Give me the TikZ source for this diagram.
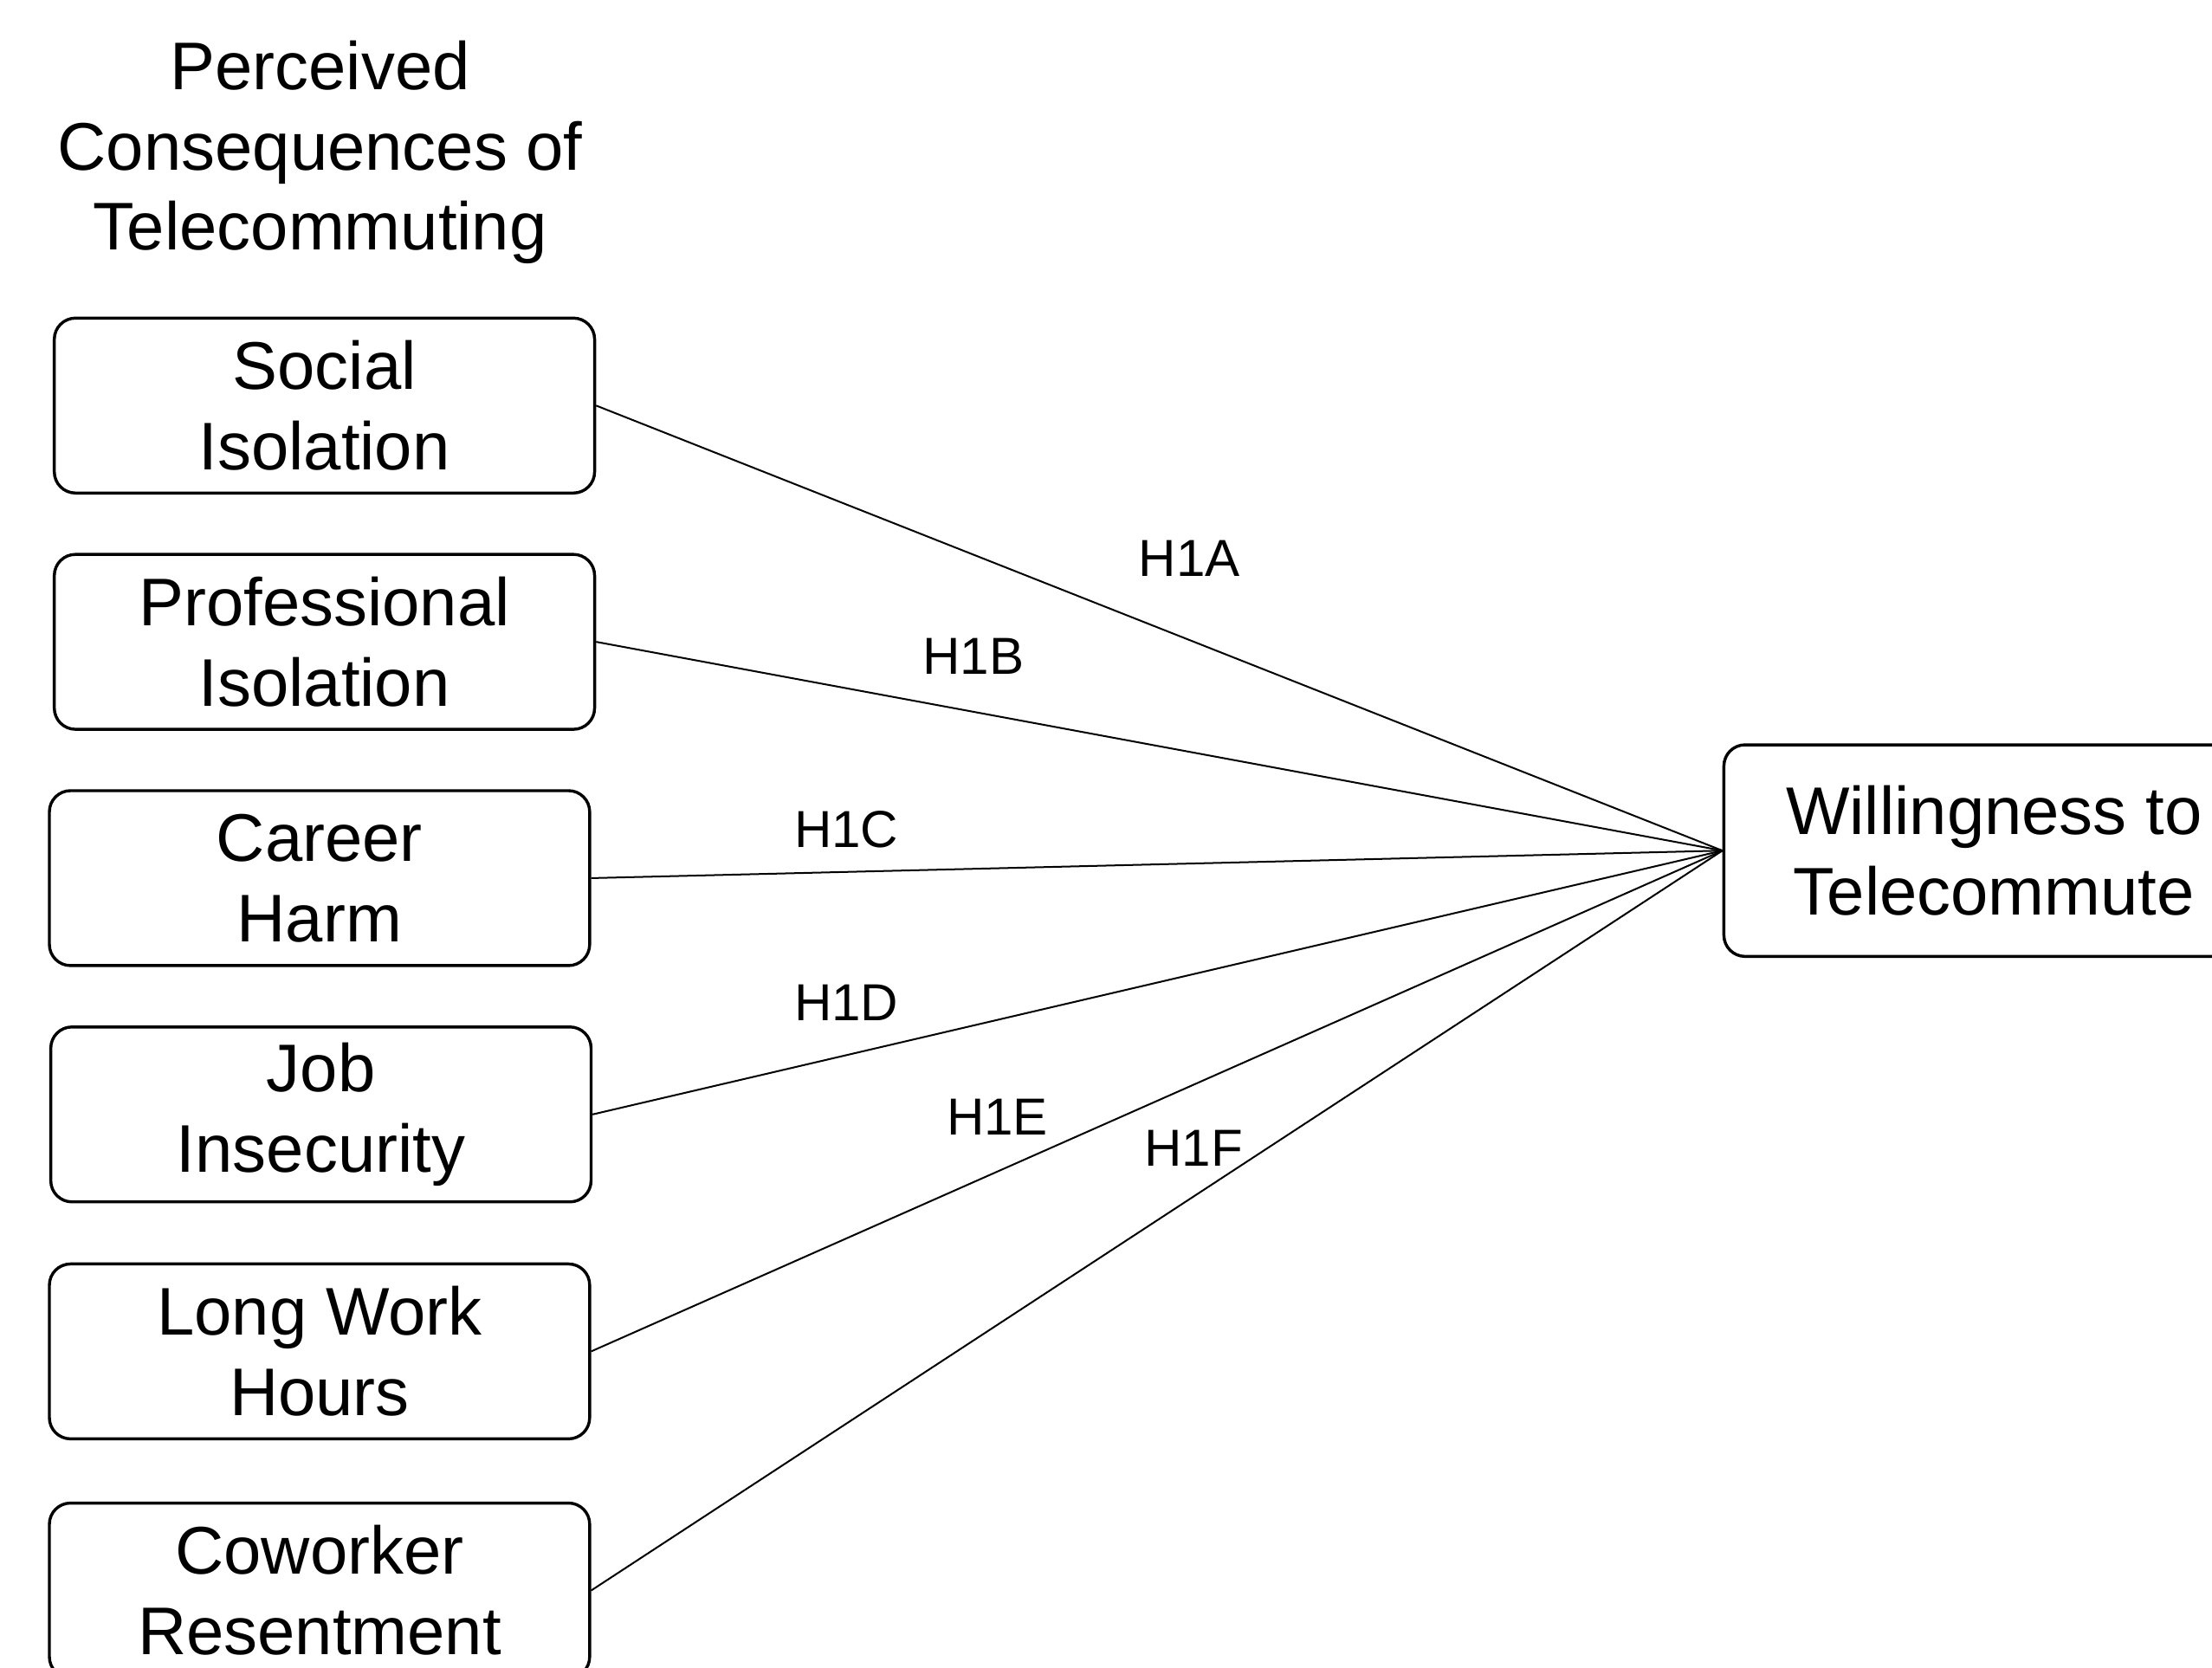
\documentclass[tikz,border=0pt]{standalone}
\usepackage{fontspec}
\setmainfont{Liberation Sans}
\begin{document}
\begin{tikzpicture}[x=0.1mm,y=-0.1mm,
  box/.style={draw, line width=0.6pt, rounded corners=1.5mm, minimum width=38.3mm, minimum height=12.4mm, align=center, inner sep=0pt, font=\fontsize{13.6}{16.2}\selectfont},
  hyp/.style={font=\fontsize{10.5}{12}\selectfont, inner sep=0pt},
  link/.style={line width=0.35pt}]
\useasboundingbox (0,0) rectangle (1568,1182);
\node[align=center, font=\fontsize{13.6}{16.2}\selectfont] (title) at (227,108) {Perceived\\Consequences of\\Telecommuting};
\node[box] (s) at (230,287.5) {Social\\ Isolation};
\node[box] (p) at (230,455) {Professional\\Isolation};
\node[box] (c) at (226.5,622.5) {Career\\Harm};
\node[box] (j) at (227.5,790) {Job\\Insecurity};
\node[box] (l) at (226.5,958) {Long Work\\Hours};
\node[box] (r) at (226.5,1127.5) {Coworker\\Resentment};
\node[box, minimum height=15mm] (w) at (1413.5,603) {Willingness to\\Telecommute};
\draw[link] (s.east) -- (w.west);
\draw[link] (p.east) -- (w.west);
\draw[link] (c.east) -- (w.west);
\draw[link] (j.east) -- (w.west);
\draw[link] (l.east) -- (w.west);
\draw[link] (r.east) -- (w.west);
\node[hyp] (ha) at (843,396) {H1A};
\node[hyp] (hb) at (690,465) {H1B};
\node[hyp] (hc) at (600,588) {H1C};
\node[hyp] (hd) at (600,711) {H1D};
\node[hyp] (he) at (707,792) {H1E};
\node[hyp] (hf) at (846,814) {H1F};
\end{tikzpicture}
\end{document}
